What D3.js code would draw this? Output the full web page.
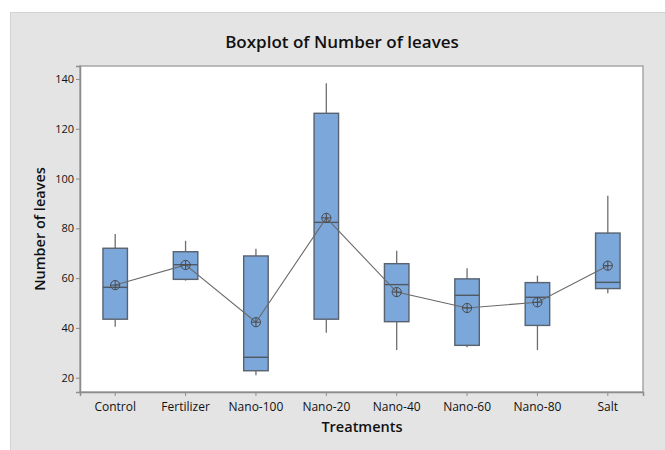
<!DOCTYPE html>
<html><head><meta charset="utf-8">
<script src="https://cdn.jsdelivr.net/npm/d3@7"></script>
<style>body{margin:0;background:#fff;} svg{display:block;}</style>
</head><body>
<svg id="c" width="665" height="450"></svg>
<script>
const categories = ["Control","Fertilizer","Nano-100","Nano-20","Nano-40","Nano-60","Nano-80","Salt"];
const whiskerLow  = [40.5, 59.0, 21.0, 38.1, 31.1, 32.2, 31.1, 53.9];
const q1          = [43.5, 59.5, 22.8, 43.5, 42.5, 33.0, 41.0, 55.8];
const median      = [56.3, 65.4, 28.2, 82.4, 57.4, 53.1, 52.3, 58.3];
const q3          = [72.0, 70.6, 68.9, 126.2, 65.8, 59.7, 58.2, 78.1];
const whiskerHigh = [77.7, 75.0, 71.8, 138.3, 71.0, 64.0, 61.0, 93.1];
const means       = [57.2, 65.3, 42.3, 84.2, 54.4, 48.0, 50.3, 65.0];
const yTicks = [20, 40, 60, 80, 100, 120, 140];

const svg = d3.select("#c");
const L = 80, R = 643, T = 66, B = 392;

svg.append("rect").attr("x",10.5).attr("y",12.5).attr("width",660).attr("height",445)
  .attr("fill","#e4e4e4").attr("stroke","#d2d2d2").attr("stroke-width",1);
svg.append("rect").attr("x",L).attr("y",T).attr("width",R-L).attr("height",B-T)
  .attr("fill","#fff").attr("stroke","#a6a6a6").attr("stroke-width",1.5);

const x = d3.scaleBand().domain(categories).range([L,R]);
const y = d3.scaleLinear().domain([14.26,145.2]).range([B,T]);

const data = categories.map((c,i)=>({c, lo:whiskerLow[i], q1:q1[i], med:median[i], q3:q3[i], hi:whiskerHigh[i], mean:means[i]}));
const cx = d => x(d.c) + x.bandwidth()/2;
const bw = 24.5;

// axes
const yAxis = d3.axisLeft(y).tickValues(yTicks).tickSize(4).tickPadding(2);
const gy = svg.append("g").attr("transform",`translate(${L},0)`).call(yAxis);
const xAxis = d3.axisBottom(x).tickSize(4).tickPadding(6);
const gx = svg.append("g").attr("transform",`translate(0,${B})`).call(xAxis);
[gy,gx].forEach(g=>{
  g.select(".domain").attr("stroke","#8c8c8c").attr("stroke-width",1.5);
  g.selectAll(".tick line").attr("stroke","#8c8c8c");
  g.selectAll(".tick text").attr("fill","#111").style("font-family","'Open Sans', sans-serif").style("font-size","12px");
});
gy.selectAll(".tick text").style("font-size","11px");

// whiskers
const g = svg.append("g");
g.selectAll(".wh").data(data).join("line")
  .attr("x1",cx).attr("x2",cx).attr("y1",d=>y(d.q3)).attr("y2",d=>y(d.hi))
  .attr("stroke","#6e6e6e").attr("stroke-width",1.3);
g.selectAll(".wl").data(data).join("line")
  .attr("x1",cx).attr("x2",cx).attr("y1",d=>y(d.q1)).attr("y2",d=>y(d.lo))
  .attr("stroke","#6e6e6e").attr("stroke-width",1.3);
// boxes
g.selectAll(".box").data(data).join("rect")
  .attr("x",d=>cx(d)-bw/2).attr("width",bw)
  .attr("y",d=>y(d.q3)).attr("height",d=>y(d.q1)-y(d.q3))
  .attr("fill","#7ba7da").attr("stroke","#59626e").attr("stroke-width",1.4);
g.selectAll(".med").data(data).join("line")
  .attr("x1",d=>cx(d)-bw/2).attr("x2",d=>cx(d)+bw/2).attr("y1",d=>y(d.med)).attr("y2",d=>y(d.med))
  .attr("stroke","#4f5863").attr("stroke-width",1.4);

// mean connect line
const line = d3.line().x(cx).y(d=>y(d.mean));
g.append("path").datum(data).attr("d",line).attr("fill","none")
  .attr("stroke","#6a6a6a").attr("stroke-width",1.1);

// mean symbols
const ms = g.selectAll(".mean").data(data).join("g")
  .attr("transform",d=>`translate(${cx(d)},${y(d.mean)})`);
ms.append("circle").attr("r",4.6).attr("fill","none").attr("stroke","#4a4a4a").attr("stroke-width",1);
ms.append("line").attr("x1",-4.6).attr("x2",4.6).attr("stroke","#4a4a4a").attr("stroke-width",1);
ms.append("line").attr("y1",-4.6).attr("y2",4.6).attr("stroke","#4a4a4a").attr("stroke-width",1);

// titles
svg.append("text").attr("x",342).attr("y",48).attr("text-anchor","middle")
  .style("font-family","'Open Sans', sans-serif").style("font-weight","600").style("font-size","17px")
  .attr("fill","#111").text("Boxplot of Number of leaves");
svg.append("text").attr("x",362).attr("y",432).attr("text-anchor","middle")
  .style("font-family","'Open Sans', sans-serif").style("font-weight","600").style("font-size","14.5px")
  .attr("fill","#111").text("Treatments");
svg.append("text").attr("transform",`translate(45,${(T+B)/2}) rotate(-90)`).attr("text-anchor","middle")
  .style("font-family","'Open Sans', sans-serif").style("font-weight","600").style("font-size","14.5px")
  .attr("fill","#111").text("Number of leaves");
</script>
</body></html>
